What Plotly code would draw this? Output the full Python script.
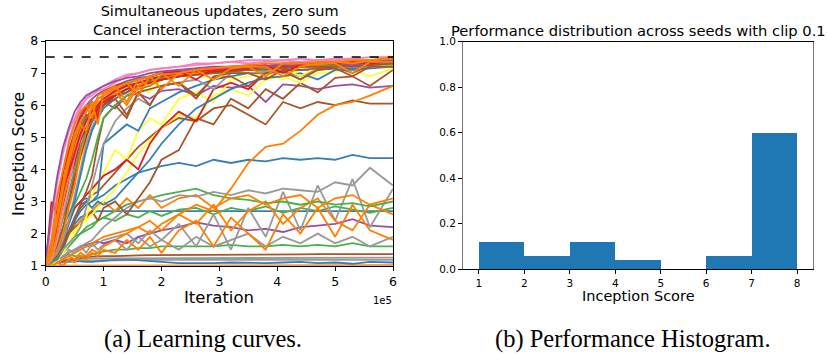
import plotly.graph_objects as go

# ---------------- data ----------------
ITERATIONS = [0, 10000, 20000, 30000, 40000, 50000, 60000, 70000, 80000, 90000, 100000,
              120000, 140000, 160000, 180000, 200000, 230000, 260000, 290000, 320000,
              350000, 380000, 410000, 440000, 470000, 500000, 530000, 560000, 600000]

R, B, G, P, O, Y, BR, PK, GR = ("#e41a1c", "#377eb8", "#4daf4a", "#984ea3", "#ff7f00",
                                 "#ffff33", "#a65628", "#f781bf", "#999999")

# lower curves (drawn first)
low_curves = [
    (O,  [1.0, 1.0, 1.01, 1.01, 1.02, 1.02, 1.02, 1.02, 1.02, 1.02, 1.02, 1.02, 1.02, 1.02, 1.02, 1.02, 1.02, 1.02, 1.02, 1.02, 1.02, 1.02, 1.02, 1.02, 1.02, 1.02, 1.02, 1.02, 1.02]),
    (GR, [1.0, 1.05, 1.08, 1.1, 1.12, 1.14, 1.15, 1.16, 1.16, 1.17, 1.17, 1.17, 1.18, 1.18, 1.18, 1.18, 1.18, 1.18, 1.18, 1.18, 1.18, 1.18, 1.18, 1.18, 1.18, 1.18, 1.18, 1.18, 1.18]),
    (B,  [1.0, 1.05, 1.1, 1.12, 1.15, 1.15, 1.13, 1.12, 1.12, 1.14, 1.15, 1.18, 1.2, 1.18, 1.16, 1.12, 1.08, 1.07, 1.08, 1.1, 1.09, 1.08, 1.1, 1.12, 1.08, 1.1, 1.06, 1.12, 1.1]),
    (GR, [1.0, 1.05, 1.1, 1.15, 1.18, 1.2, 1.2, 1.22, 1.22, 1.23, 1.23, 1.24, 1.24, 1.25, 1.25, 1.25, 1.25, 1.25, 1.25, 1.25, 1.25, 1.25, 1.25, 1.25, 1.25, 1.25, 1.25, 1.25, 1.25]),
    (BR, [1.0, 1.05, 1.1, 1.15, 1.2, 1.22, 1.25, 1.27, 1.28, 1.3, 1.3, 1.3, 1.32, 1.32, 1.33, 1.33, 1.34, 1.34, 1.34, 1.35, 1.35, 1.35, 1.35, 1.35, 1.36, 1.36, 1.36, 1.36, 1.36]),
    (G,  [1.0, 1.1, 1.2, 1.3, 1.35, 1.3, 1.3, 1.3, 1.35, 1.4, 1.45, 1.5, 1.5, 1.55, 1.55, 1.6, 1.6, 1.6, 1.6, 1.65, 1.6, 1.6, 1.65, 1.6, 1.65, 1.6, 1.7, 1.6, 1.6]),
    (GR, [1.0, 1.1, 1.3, 1.2, 1.5, 1.4, 1.6, 1.4, 1.7, 1.5, 1.65, 1.8, 1.5, 1.9, 1.6, 1.8, 1.5, 1.9, 1.6, 1.8, 2.0, 1.6, 1.9, 1.7, 2.0, 1.7, 1.9, 1.6, 1.9]),
    (B,  [1.0, 1.1, 1.3, 1.6, 2.0, 2.3, 2.5, 2.6, 2.65, 2.7, 2.7, 2.7, 2.7, 2.7, 2.7, 2.7, 2.7, 2.7, 2.7, 2.7, 2.7, 2.7, 2.7, 2.7, 2.7, 2.7, 2.7, 2.7, 2.7]),
    (G,  [1.0, 1.1, 1.3, 1.5, 1.7, 1.9, 2.0, 2.2, 2.3, 2.4, 2.5, 2.4, 2.6, 2.5, 2.7, 2.55, 2.75, 2.8, 2.6, 2.8, 2.7, 2.85, 2.65, 2.8, 2.7, 2.85, 2.75, 2.65, 2.8]),
    (P,  [1.0, 1.1, 1.2, 1.3, 1.4, 1.5, 1.6, 1.65, 1.7, 1.75, 1.7, 1.8, 1.7, 1.9, 2.0, 2.1, 2.2, 2.35, 2.25, 2.2, 2.1, 2.15, 2.05, 2.2, 2.25, 2.3, 2.45, 2.25, 2.2]),
    (GR, [1.0, 1.0, 1.1, 1.2, 1.3, 1.4, 1.5, 1.6, 1.6, 1.7, 1.8, 1.9, 2.0, 1.7, 2.1, 1.8, 2.3, 1.6, 2.6, 1.5, 2.8, 1.9, 3.3, 2.1, 3.5, 2.4, 3.7, 2.2, 3.4]),
    (O,  [1.0, 1.0, 1.1, 1.0, 1.2, 1.1, 1.3, 1.2, 1.4, 1.3, 1.5, 1.4, 1.8, 1.5, 1.9, 1.4, 2.1, 2.4, 1.6, 2.5, 2.0, 1.5, 2.6, 2.0, 2.8, 1.9, 2.9, 2.1, 1.8]),
    (O,  [1.0, 1.0, 1.1, 1.2, 1.3, 1.2, 1.4, 1.3, 1.5, 1.4, 1.6, 1.8, 2.0, 2.2, 2.4, 2.1, 2.6, 2.3, 2.9, 2.1, 2.7, 3.0, 2.3, 2.8, 3.1, 2.4, 2.1, 2.9, 2.6]),
    (G,  [1.0, 1.1, 1.2, 1.4, 1.6, 1.8, 2.0, 2.1, 2.2, 2.4, 2.5, 2.7, 2.9, 3.0, 3.1, 3.2, 3.3, 3.4, 3.2, 3.1, 3.05, 2.95, 3.0, 2.9, 3.0, 2.9, 2.95, 2.85, 3.0]),
    (O,  [1.0, 1.2, 1.5, 1.8, 2.0, 2.2, 2.4, 2.6, 2.7, 2.9, 3.0, 2.7, 3.1, 2.8, 3.2, 2.8, 3.1, 3.2, 2.8, 3.1, 3.2, 2.9, 3.1, 3.2, 2.8, 3.1, 3.2, 2.9, 3.1]),
    (GR, [1.0, 1.1, 1.2, 1.3, 1.4, 1.5, 1.6, 1.7, 1.8, 2.0, 2.2, 2.5, 2.8, 3.0, 3.1, 3.0, 3.2, 3.15, 3.3, 3.2, 3.35, 3.25, 3.4, 3.35, 3.3, 3.6, 3.5, 4.05, 3.5]),
    (B,  [1.0, 1.1, 1.3, 1.7, 2.3, 2.8, 3.0, 3.1, 3.0, 3.1, 3.2, 3.5, 3.7, 3.9, 4.0, 4.1, 4.2, 4.1, 4.3, 4.2, 4.3, 4.25, 4.35, 4.3, 4.35, 4.3, 4.45, 4.35, 4.35]),
]

# curves reaching 6-7.5
high_curves = [
    (BR, [1.0, 1.1, 1.3, 1.7, 2.1, 2.5, 2.8, 3.0, 3.2, 3.3, 3.5, 3.9, 4.3, 4.7, 5.0, 5.3, 5.6, 5.5, 5.9, 6.0, 5.7, 5.4, 6.1, 5.9, 6.1, 6.0, 6.15, 6.05, 6.05]),
    (P,  [1.0, 1.4, 2.2, 3.2, 4.2, 4.9, 5.4, 5.7, 5.5, 6.0, 6.1, 5.9, 6.3, 6.35, 6.2, 6.45, 6.5, 6.3, 6.6, 6.55, 6.6, 6.1, 6.65, 6.6, 6.5, 6.6, 6.65, 6.55, 6.6]),
    (BR, [1.0, 1.1, 1.3, 1.6, 2.0, 2.2, 2.3, 2.5, 2.7, 2.4, 2.8, 3.0, 2.6, 3.1, 3.6, 4.3, 4.6, 5.6, 5.4, 6.2, 5.9, 6.5, 6.2, 6.7, 6.4, 6.85, 6.9, 6.6, 7.1]),
    (Y,  [1.0, 1.1, 1.3, 1.6, 1.9, 2.1, 2.3, 2.4, 2.6, 2.8, 3.0, 3.4, 3.9, 4.5, 4.9, 5.3, 5.7, 5.6, 6.3, 6.5, 6.3, 6.8, 6.9, 6.7, 7.0, 7.05, 7.1, 6.9, 7.15]),
    (Y,  [1.0, 1.0, 1.2, 1.4, 1.7, 2.0, 2.2, 2.5, 3.2, 3.6, 3.9, 4.6, 4.3, 5.2, 5.6, 5.4, 6.2, 6.4, 6.1, 6.8, 6.9, 7.0, 6.8, 7.1, 7.1, 7.15, 7.2, 7.2, 7.25]),
    (R,  [1.0, 1.2, 1.5, 2.0, 2.4, 2.8, 3.0, 3.2, 3.4, 3.6, 3.8, 4.0, 4.3, 4.0, 4.8, 5.3, 5.8, 5.5, 6.5, 6.7, 6.5, 7.0, 7.1, 6.9, 7.15, 7.2, 7.0, 7.25, 7.3]),
    (B,  [1.0, 1.1, 1.2, 1.5, 2.0, 2.5, 2.9, 3.0, 2.8, 3.0, 2.9, 3.1, 3.5, 3.9, 4.3, 4.8, 5.4, 5.9, 6.2, 6.5, 6.7, 6.85, 6.9, 7.0, 6.8, 7.1, 7.1, 7.15, 7.2]),
    (B,  [1.0, 1.1, 1.3, 1.6, 2.0, 2.4, 2.7, 2.9, 3.0, 3.2, 4.8, 5.1, 5.4, 5.2, 5.9, 6.1, 6.4, 6.6, 6.8, 6.9, 7.0, 7.0, 7.05, 7.1, 7.1, 7.15, 7.15, 7.2, 7.2]),
    (GR, [1.0, 1.1, 1.3, 1.5, 1.7, 1.9, 2.2, 2.8, 3.5, 4.2, 4.8, 5.5, 5.9, 6.2, 6.0, 6.6, 6.7, 6.8, 6.5, 7.0, 7.0, 7.05, 7.1, 6.8, 7.15, 7.15, 7.2, 7.2, 7.2]),
    (BR, [1.0, 1.1, 1.3, 1.6, 2.0, 2.4, 2.9, 3.3, 3.8, 4.8, 5.6, 6.0, 5.6, 6.4, 6.0, 6.6, 6.7, 6.3, 6.85, 6.9, 6.6, 7.0, 7.05, 6.8, 7.1, 7.15, 6.9, 7.2, 7.2]),
    (Y,  [1.0, 1.2, 1.6, 2.2, 2.9, 3.6, 4.3, 4.9, 5.3, 5.6, 5.9, 6.2, 6.4, 6.6, 6.4, 6.8, 6.9, 7.0, 6.8, 7.05, 7.1, 7.1, 7.15, 6.9, 7.2, 7.2, 7.25, 7.25, 7.3]),
    (G,  [1.0, 1.1, 1.5, 2.0, 2.4, 2.9, 3.3, 3.7, 4.3, 5.0, 5.6, 6.0, 6.3, 6.5, 6.6, 6.8, 6.9, 7.0, 7.0, 7.05, 7.1, 7.15, 7.2, 7.2, 7.2, 7.25, 7.25, 7.3, 7.3]),
    (GR, [1.0, 1.2, 1.4, 1.8, 2.4, 3.2, 4.0, 4.8, 5.3, 5.7, 6.0, 6.3, 6.5, 6.6, 6.7, 6.85, 6.9, 7.0, 7.05, 7.1, 7.1, 7.15, 7.2, 7.2, 7.2, 7.25, 7.25, 7.3, 7.3]),
    (B,  [1.1, 1.3, 1.7, 2.2, 2.6, 3.0, 3.8, 4.6, 5.2, 5.6, 5.9, 6.2, 6.4, 6.6, 6.7, 6.8, 6.9, 6.95, 7.0, 7.1, 7.1, 7.15, 7.2, 7.2, 7.25, 7.25, 7.3, 7.3, 7.3]),
    (R,  [1.0, 1.3, 1.9, 2.5, 3.0, 3.7, 4.4, 5.0, 5.5, 5.8, 6.0, 6.3, 6.5, 6.7, 6.8, 6.85, 6.95, 7.0, 7.1, 7.1, 7.15, 7.2, 7.2, 7.25, 7.3, 7.3, 7.3, 7.35, 7.4]),
    (BR, [1.0, 1.2, 1.6, 2.2, 3.0, 3.9, 4.6, 5.1, 5.5, 5.8, 6.0, 6.2, 5.7, 6.4, 6.5, 6.6, 6.7, 6.2, 6.9, 7.0, 7.0, 6.8, 7.1, 7.1, 7.15, 7.2, 7.2, 7.25, 7.3]),
    (O,  [1.0, 1.2, 1.5, 2.0, 2.8, 3.5, 4.5, 5.2, 5.6, 5.9, 6.1, 6.4, 6.6, 6.5, 6.8, 6.9, 7.0, 7.05, 7.1, 7.1, 7.2, 7.2, 7.25, 7.3, 7.3, 7.3, 7.3, 7.35, 7.4]),
    (G,  [1.0, 1.2, 1.8, 2.5, 3.3, 4.0, 4.7, 5.2, 5.6, 5.9, 6.1, 6.3, 6.5, 6.6, 6.75, 6.85, 6.9, 7.0, 7.0, 7.05, 7.1, 7.15, 7.15, 7.2, 7.2, 7.25, 7.25, 7.3, 7.3]),
    (BR, [1.0, 1.4, 2.4, 3.2, 4.1, 4.8, 5.3, 5.6, 5.9, 6.0, 6.2, 6.3, 6.4, 6.6, 6.7, 6.8, 6.9, 6.95, 7.0, 7.05, 7.1, 7.1, 7.15, 7.2, 7.2, 7.2, 7.25, 7.25, 7.3]),
    (R,  [1.1, 1.5, 2.2, 2.9, 3.6, 4.2, 4.9, 5.3, 5.6, 5.9, 6.1, 6.3, 6.5, 6.6, 6.7, 6.8, 6.9, 7.0, 7.05, 7.1, 7.15, 7.2, 7.25, 7.2, 7.3, 7.3, 7.3, 7.35, 7.4]),
    (G,  [1.1, 1.6, 2.8, 3.6, 4.4, 5.0, 5.4, 5.8, 6.0, 6.2, 6.3, 6.5, 6.65, 6.8, 6.85, 6.9, 7.0, 7.05, 7.1, 7.1, 7.15, 7.2, 7.2, 7.25, 7.25, 7.3, 7.3, 7.3, 7.35]),
    (PK, [1.0, 1.2, 1.8, 2.6, 3.5, 4.4, 5.0, 5.5, 5.8, 6.0, 6.3, 6.5, 6.7, 6.8, 6.9, 7.0, 7.1, 7.1, 7.15, 7.2, 7.2, 7.25, 7.3, 7.3, 7.3, 7.35, 7.35, 7.4, 7.4]),
    (O,  [1.0, 1.3, 2.0, 3.0, 3.8, 4.6, 5.2, 5.5, 5.9, 6.1, 6.2, 6.4, 6.0, 6.6, 6.8, 6.9, 6.95, 7.0, 7.1, 7.15, 7.2, 7.2, 7.25, 7.3, 7.3, 7.3, 7.35, 7.4, 7.45]),
    (R,  [1.0, 2.6, 3.0, 3.4, 3.9, 4.5, 5.1, 5.5, 5.8, 6.0, 6.2, 6.45, 6.6, 6.7, 6.8, 6.9, 7.0, 7.05, 7.1, 7.1, 7.15, 7.2, 7.2, 7.25, 7.3, 7.3, 7.3, 7.35, 7.35]),
    (P,  [1.1, 1.5, 2.4, 3.5, 4.5, 5.2, 5.7, 6.0, 6.2, 6.35, 6.45, 6.6, 6.75, 6.85, 6.9, 7.0, 7.05, 7.1, 7.15, 7.15, 7.2, 7.2, 7.25, 7.2, 7.3, 7.3, 7.25, 7.3, 7.35]),
    (PK, [1.1, 1.8, 3.0, 4.0, 4.9, 5.5, 5.9, 6.2, 6.4, 6.5, 6.6, 6.8, 6.95, 7.0, 7.1, 7.15, 7.2, 7.3, 7.3, 7.35, 7.4, 7.4, 7.4, 7.45, 7.4, 7.45, 7.45, 7.5, 7.5]),
    (R,  [1.0, 3.0, 2.6, 3.9, 4.6, 5.1, 5.6, 5.9, 6.1, 5.6, 6.4, 6.6, 6.7, 6.3, 6.9, 7.0, 7.05, 6.8, 7.15, 7.2, 7.2, 7.25, 7.0, 7.25, 7.3, 7.3, 7.35, 7.3, 7.4]),
    (PK, [1.1, 2.3, 3.6, 4.5, 5.2, 5.6, 6.0, 6.2, 6.3, 6.45, 6.5, 6.7, 6.9, 7.0, 7.1, 7.15, 7.2, 7.25, 7.3, 7.35, 7.3, 7.35, 7.4, 7.35, 7.4, 7.4, 7.45, 7.4, 7.45]),
    (P,  [1.2, 2.6, 3.8, 4.7, 5.3, 5.8, 6.1, 6.3, 6.4, 6.5, 6.6, 6.75, 6.85, 6.9, 7.0, 7.05, 7.1, 7.15, 7.2, 7.2, 7.25, 7.2, 7.3, 7.3, 7.25, 7.35, 7.3, 7.35, 7.4]),
    (O,  [1.0, 1.8, 3.2, 4.0, 4.8, 5.4, 5.8, 6.0, 5.6, 6.3, 6.4, 6.6, 6.1, 6.8, 6.9, 6.5, 7.0, 7.1, 6.8, 7.15, 7.2, 7.2, 6.9, 7.2, 7.3, 7.3, 7.0, 7.35, 7.35]),
    (O,  [1.0, 1.5, 2.4, 3.4, 4.2, 4.9, 5.4, 5.2, 6.0, 6.2, 6.3, 6.55, 6.7, 6.8, 6.6, 6.95, 7.0, 7.1, 7.15, 7.2, 7.25, 7.3, 7.3, 7.3, 7.35, 7.35, 7.4, 7.4, 7.45]),
    (O,  [1.0, 1.4, 2.6, 3.6, 4.4, 5.1, 5.5, 5.8, 6.1, 5.4, 6.4, 6.5, 6.7, 6.3, 6.9, 7.0, 6.6, 7.1, 7.15, 7.2, 7.2, 6.9, 7.3, 7.3, 7.25, 7.35, 7.3, 7.4, 7.5]),
    # slow orange riser
    (O,  [1.0, 1.0, 1.1, 1.2, 1.3, 1.4, 1.5, 1.6, 1.7, 1.8, 1.9, 2.0, 2.1, 2.2, 2.0, 2.3, 2.6, 2.9, 2.7, 3.4, 4.2, 4.7, 4.8, 5.2, 5.7, 6.0, 6.1, 6.3, 6.6]),
]

TARGET_SCORE = 7.5

HIST_EDGES = [1, 2, 3, 4, 5, 6, 7, 8]
HIST_FRACTIONS = [0.12, 0.06, 0.12, 0.04, 0.0, 0.06, 0.60]

# ---------------- figure ----------------
fig = go.Figure()
FONT = "DejaVu Sans"

for color, vals in low_curves + high_curves:
    fig.add_trace(go.Scatter(x=ITERATIONS, y=vals, mode="lines",
                             line=dict(color=color, width=1.8),
                             xaxis="x", yaxis="y", showlegend=False, hoverinfo="skip"))

fig.add_trace(go.Scatter(x=[ITERATIONS[0], ITERATIONS[-1]], y=[TARGET_SCORE, TARGET_SCORE],
                         mode="lines", line=dict(color="black", width=1.5, dash="dash"),
                         xaxis="x", yaxis="y", showlegend=False, hoverinfo="skip"))

centers = [(a + b) / 2 for a, b in zip(HIST_EDGES[:-1], HIST_EDGES[1:])]
widths = [b - a for a, b in zip(HIST_EDGES[:-1], HIST_EDGES[1:])]
fig.add_trace(go.Bar(x=centers, y=HIST_FRACTIONS, width=widths,
                     marker=dict(color="#1f77b4", line=dict(width=0)),
                     xaxis="x2", yaxis="y2", showlegend=False, hoverinfo="skip"))

axis_common = dict(showgrid=False, zeroline=False, showline=True, linewidth=1,
                   mirror=True, ticks="outside", ticklen=4, tickcolor="black", automargin=False)


def paper_y(py):
    return 1 - py / 354


def paper_x(px):
    return px / 827


fig.update_layout(
    width=827, height=354,
    margin=dict(l=0, r=0, t=0, b=0),
    paper_bgcolor="white", plot_bgcolor="white",
    font=dict(family=FONT, color="black"),
    xaxis=dict(domain=[paper_x(45.7), paper_x(393)], range=[0, 600000],
               tickvals=[0, 100000, 200000, 300000, 400000, 500000, 600000],
               ticktext=["0", "1", "2", "3", "4", "5", "6"],
               tickfont=dict(size=12.5), anchor="y", linecolor="black", **axis_common),
    yaxis=dict(domain=[paper_y(265.7), paper_y(41)], range=[1, 8], dtick=1,
               tickfont=dict(size=12.5), anchor="x", linecolor="black", **axis_common),
    xaxis2=dict(domain=[paper_x(463), paper_x(813)], range=[0.65, 8.35], tickvals=HIST_EDGES,
                tickfont=dict(size=10.5), anchor="y2", linecolor="black", **axis_common),
    yaxis2=dict(domain=[paper_y(269), paper_y(41.7)], range=[0, 1],
                tickvals=[0, 0.2, 0.4, 0.6, 0.8, 1.0], tickformat=".1f",
                tickfont=dict(size=10.5), anchor="x2", linecolor="#777777", **axis_common),
    bargap=0,
    annotations=[
        dict(text="Simultaneous updates, zero sum<br>Cancel interaction terms, 50 seeds",
             x=paper_x(219.3), y=paper_y(21), xref="paper", yref="paper", showarrow=False,
             font=dict(size=14.5), xanchor="center", yanchor="middle"),
        dict(text="Inception Score", x=paper_x(18), y=paper_y(154), xref="paper", yref="paper",
             showarrow=False, textangle=-90, font=dict(size=16), xanchor="center", yanchor="middle"),
        dict(text="Iteration", x=paper_x(219.3), y=paper_y(297), xref="paper", yref="paper",
             showarrow=False, font=dict(size=16.5), xanchor="center", yanchor="middle"),
        dict(text="1e5", x=paper_x(394), y=paper_y(300), xref="paper", yref="paper", showarrow=False,
             font=dict(size=10), xanchor="right", yanchor="middle"),
        dict(text="Performance distribution across seeds with clip 0.1",
             x=paper_x(638.5), y=paper_y(30), xref="paper", yref="paper", showarrow=False,
             font=dict(size=14.7), xanchor="center", yanchor="middle"),
        dict(text="Inception Score", x=paper_x(638), y=paper_y(296), xref="paper", yref="paper",
             showarrow=False, font=dict(size=14.5), xanchor="center", yanchor="middle"),
        dict(text="(a) Learning curves.", x=paper_x(203), y=paper_y(339), xref="paper", yref="paper",
             showarrow=False, font=dict(size=24.5, family="Liberation Serif"),
             xanchor="center", yanchor="middle"),
        dict(text="(b) Performance Histogram.", x=paper_x(633), y=paper_y(339), xref="paper", yref="paper",
             showarrow=False, font=dict(size=24.5, family="Liberation Serif"),
             xanchor="center", yanchor="middle"),
    ],
)

fig.write_html("out.html", config={"displayModeBar": False},
               post_script="document.body.style.margin='0px';document.body.style.overflow='hidden';")
